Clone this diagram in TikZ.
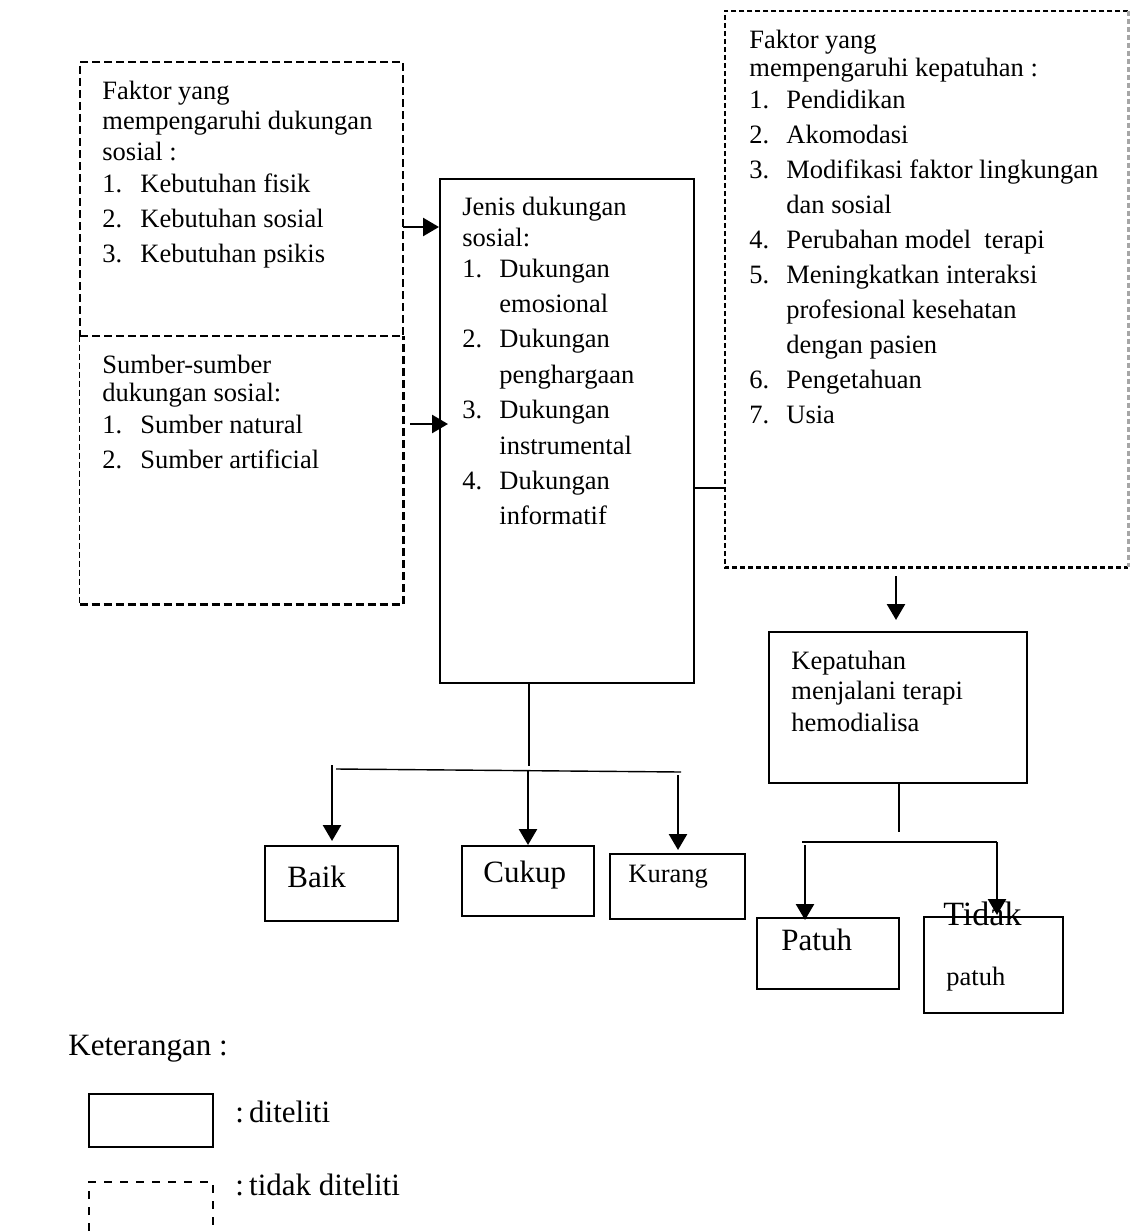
\documentclass[tikz,border=0pt]{standalone}
\usepackage{fontspec}
\setmainfont{Liberation Serif}
\usetikzlibrary{fit,arrows.meta}
\newcommand\mainsz{\fontsize{13.25pt}{15pt}\selectfont}
\newcommand\bigsz{\fontsize{15.5pt}{18pt}\selectfont}
\newcommand\hd[1]{\multicolumn{2}{@{}l@{}}{#1}}
\begin{document}
\begin{tikzpicture}[x=0.5pt,y=-0.5pt,
  sbox/.style={draw, line width=1pt, inner sep=0pt},
  dbox/.style={draw, line width=1.2pt, dash pattern=on 4pt off 2pt, inner sep=0pt},
  dthin/.style={line width=0.5pt, dash pattern=on 3pt off 1.5pt},
  dthick/.style={line width=1.2pt, dash pattern=on 4pt off 2pt},
  dright/.style={line width=1.1pt, dash pattern=on 2.5pt off 1.5pt},
  conn/.style={line width=0.7pt},
  arr/.style={line width=1.3pt, -{Triangle[length=8pt,width=9pt]}},
  txt/.style={inner sep=0pt, anchor=base west, font=\mainsz, align=left},
  bigtxt/.style={inner sep=0pt, anchor=base west, font=\bigsz}]
\useasboundingbox (0,0) rectangle (1131,1231);

% ---------- boxes ----------
\node[dbox, fit={(80,62)(403,336)}] (ftop) {};
\node[inner sep=0pt, fit={(80,336)(403,604)}] (fsrc) {};
\draw[dthin] (fsrc.north west) -- (fsrc.south west);
\draw[dthick] (fsrc.south west) -- (fsrc.south east) -- (fsrc.north east);
\node[sbox, fit={(440,179)(694,683)}] (jenis) {};
\node[inner sep=0pt, fit={(725,11)(1128,567)}] (fkep) {};
\draw[dright] (fkep.north east) -- (fkep.north west) -- (fkep.south west) -- (fkep.south east);
\draw[dright, black!35] (fkep.north east) -- (fkep.south east);
\node[sbox, fit={(769,632)(1027,783)}] (kep) {};
\node[sbox, fit={(265,846)(398,921)}] (baik) {};
\node[sbox, fit={(462,846)(594,916)}] (cukup) {};
\node[sbox, fit={(610,854)(745,919)}] (kurang) {};
\node[sbox, fit={(757,918)(899,989)}] (patuh) {};
\node[sbox, fit={(924,917)(1063,1013)}] (tidak) {};

% ---------- texts ----------
\node[txt] (tftop) at (102,99) {\begin{tabular}[t]{@{}p{19pt}@{}l@{}}
\hd{Faktor yang}\\
\hd{mempengaruhi dukungan}\\[0.5pt]
\hd{sosial :}\\[1pt]
1. & Kebutuhan fisik\\[2.5pt]
2. & Kebutuhan sosial\\[2.5pt]
3. & Kebutuhan psikis
\end{tabular}};
\node[txt] (tfsrc) at (102,373) {\begin{tabular}[t]{@{}p{19pt}@{}l@{}}
\hd{Sumber-sumber}\\[-1pt]
\hd{dukungan sosial:}\\[1pt]
1. & Sumber natural\\[2.5pt]
2. & Sumber artificial
\end{tabular}};
\node[txt] (tjenis) at (462,215) {\begin{tabular}[t]{@{}p{18.5pt}@{}l@{}}
\hd{Jenis dukungan}\\[0.5pt]
\hd{sosial:}\\[0.5pt]
1. & Dukungan\\[2.7pt]
 & emosional\\[2.7pt]
2. & Dukungan\\[2.7pt]
 & penghargaan\\[2.7pt]
3. & Dukungan\\[2.7pt]
 & instrumental\\[2.7pt]
4. & Dukungan\\[2.7pt]
 & informatif
\end{tabular}};
\node[txt] (tfkep) at (749,48) {\begin{tabular}[t]{@{}p{18.5pt}@{}l@{}}
\hd{Faktor yang}\\[-1pt]
\hd{mempengaruhi kepatuhan :}\\[1pt]
1. & Pendidikan\\[2.5pt]
2. & Akomodasi\\[2.5pt]
3. & Modifikasi faktor lingkungan\\[2.5pt]
 & dan sosial\\[2.5pt]
4. & Perubahan model\ \ terapi\\[2.5pt]
5. & Meningkatkan interaksi\\[2.5pt]
 & profesional kesehatan\\[2.5pt]
 & dengan pasien\\[2.5pt]
6. & Pengetahuan\\[2.5pt]
7. & Usia
\end{tabular}};
\node[txt] (tkep) at (791,669) {\begin{tabular}[t]{@{}l@{}}
Kepatuhan\\
menjalani terapi\\[1pt]
hemodialisa
\end{tabular}};
\node[bigtxt] (tbaik) at (287,887) {Baik};
\node[bigtxt] (tcukup) at (483,882) {Cukup};
\node[txt] (tkurang) at (628,882) {Kurang};
\node[bigtxt] (tpatuh) at (781,950) {Patuh};
\node[inner sep=0pt, anchor=base west, font=\fontsize{17pt}{20pt}\selectfont] (ttidak) at (943,925) {Tidak};
\node[txt] (tpatuh2) at (946,985) {patuh};

% ---------- connectors ----------
\coordinate (a1) at (403,227);
\draw[arr] (a1) -- (a1 -| jenis.west);
\coordinate (a2s) at (410,424);
\coordinate (a2e) at (448,424);
\draw[arr] (a2s) -- (a2e);
\coordinate (c1) at (694,488);
\draw[conn] (c1) -- (c1 -| fkep.west);
\coordinate (k1) at (896,576);
\coordinate (k2) at (896,620);
\draw[arr] (k1) -- (k2);

% jenis -> baik / cukup / kurang
\coordinate (s1) at (529,766);
\draw[conn] (s1 |- jenis.south) -- (s1);
\coordinate (bl) at (336,769);
\coordinate (br) at (681,772);
\draw[conn] (bl) -- (br);
\coordinate (ab) at (332,765);
\draw[arr] (ab) -- (ab |- 0,841);
\coordinate (ac) at (528,770);
\draw[arr] (ac) -- (ac |- 0,845);
\coordinate (ak) at (678,775);
\draw[arr] (ak) -- (ak |- 0,850);

% kepatuhan -> patuh / tidak patuh
\coordinate (s2) at (899,832);
\draw[conn] (s2 |- kep.south) -- (s2);
\coordinate (pl) at (802,842);
\coordinate (pr) at (997,842);
\draw[conn] (pl) -- (pr);
\coordinate (ap) at (805,845);
\draw[arr] (ap) -- (ap |- 0,920);
\draw[arr] (pr) -- (pr |- 0,915);

% ---------- legend ----------
\node[inner sep=0pt, anchor=base west, font=\bigsz] (lket) at (68,1055) {Keterangan :};
\node[sbox, fit={(89,1094)(213,1147)}] (lgsolid) {};
\node[bigtxt] (lsolid) at (235,1122) {:\,diteliti};
\coordinate (ld1) at (89,1231);
\coordinate (ld2) at (89,1182);
\coordinate (ld3) at (213,1182);
\coordinate (ld4) at (213,1231);
\draw[line width=0.9pt, dash pattern=on 4pt off 4pt] (ld1) -- (ld2) -- (ld3) -- (ld4);
\node[bigtxt] (ldash) at (235,1195) {:\,tidak diteliti};
\end{tikzpicture}
\end{document}
